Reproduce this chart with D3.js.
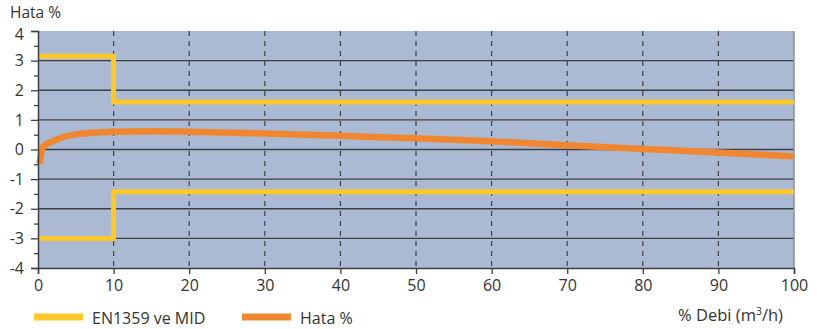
<!DOCTYPE html>
<html>
<head>
<meta charset="utf-8">
<script src="https://cdn.jsdelivr.net/npm/d3@7"></script>
<style>
  body { margin: 0; background: #fff; }
  svg { display: block; font-family: "Open Sans", sans-serif; }
</style>
</head>
<body>
<svg id="chart" width="817" height="329"></svg>
<script>
// values
const xTicks = [0, 10, 20, 30, 40, 50, 60, 70, 80, 90, 100];
const yTicks = [-4, -3, -2, -1, 0, 1, 2, 3, 4];

const limitUpper = [
  [0, 3.15], [10, 3.15], [10, 1.6], [100, 1.6],
];
const limitLower = [
  [0, -3.0], [10, -3.0], [10, -1.43], [100, -1.43],
];
const errorCurve = [
  [0.2, -0.48], [0.7, 0.1], [1.5, 0.22], [3.3, 0.42], [5.6, 0.53], [8, 0.58],
  [10, 0.6], [15, 0.62], [20, 0.6], [30, 0.54], [40, 0.46], [50, 0.38],
  [60, 0.28], [70, 0.14], [80, 0.02], [90, -0.1], [100, -0.23],
];

const svg = d3.select("#chart");
const margin = { left: 38, right: 23, top: 31, bottom: 61 };
const width = 817 - margin.left - margin.right;
const height = 329 - margin.top - margin.bottom;

const x = d3.scaleLinear().domain([0, 100]).range([margin.left, margin.left + width]);
const y = d3.scaleLinear().domain([-4, 4]).range([margin.top + height, margin.top]);

const ink = "#3b4047";

svg.append("rect")
  .attr("x", x(0)).attr("y", y(4))
  .attr("width", x(100) - x(0)).attr("height", y(-4) - y(4))
  .attr("fill", "#abb9d3");

// horizontal grid
svg.append("g")
  .selectAll("line")
  .data(yTicks.filter((d) => d > -4 && d < 4))
  .join("line")
  .attr("x1", x(0)).attr("x2", x(100))
  .attr("y1", (d) => y(d)).attr("y2", (d) => y(d))
  .attr("stroke", ink).attr("stroke-width", 1.3);

// vertical dashed grid
svg.append("g")
  .selectAll("line")
  .data(xTicks.filter((d) => d > 0 && d < 100))
  .join("line")
  .attr("x1", (d) => x(d)).attr("x2", (d) => x(d))
  .attr("y1", y(4)).attr("y2", y(-4))
  .attr("stroke", ink).attr("stroke-width", 1.2)
  .attr("stroke-dasharray", "5,5");

// right border
svg.append("line")
  .attr("x1", x(100)).attr("x2", x(100))
  .attr("y1", y(4)).attr("y2", y(-4))
  .attr("stroke", "#8a8f96").attr("stroke-width", 1.5);

const line = d3.line().x((d) => x(d[0])).y((d) => y(d[1]));

for (const data of [limitUpper, limitLower])
  svg.append("path")
    .attr("d", line(data))
    .attr("fill", "none")
    .attr("stroke", "#fdc82b")
    .attr("stroke-width", 5)
    .attr("stroke-linejoin", "miter");

svg.append("path")
  .attr("d", line.curve(d3.curveMonotoneX)(errorCurve))
  .attr("fill", "none")
  .attr("stroke", "#f0862f")
  .attr("stroke-width", 6.5)
  .attr("stroke-linecap", "butt");

// axes
const xAxis = d3.axisBottom(x).tickValues(xTicks).tickSize(6).tickPadding(6);
const gx = svg.append("g")
  .attr("transform", `translate(0,${y(-4)})`)
  .call(xAxis);

const yAxis = d3.axisLeft(y)
  .tickValues(yTicks)
  .tickFormat((d) => String(d))
  .tickSize(7).tickPadding(7);
const gy = svg.append("g")
  .attr("transform", `translate(${x(0)},0)`)
  .call(yAxis);
// top label sits a little lower, as in the original
gy.selectAll(".tick text").filter((d) => d === 4).attr("y", 3);

const yMinor = d3.axisLeft(y)
  .tickValues(d3.range(-3.5, 4, 1))
  .tickSize(4).tickFormat("");
svg.append("g")
  .attr("transform", `translate(${x(0)},0)`)
  .call(yMinor)
  .call((g) => g.select(".domain").remove());

svg.selectAll(".domain").attr("stroke", ink).attr("stroke-width", 1.5);
svg.selectAll(".tick line").attr("stroke", ink).attr("stroke-width", 1.3);
svg.selectAll(".tick text")
  .attr("fill", "#333")
  .attr("font-size", 16)
  .attr("font-family", "Open Sans, sans-serif");

// axis titles
svg.append("text")
  .attr("x", 10).attr("y", 17.5)
  .attr("font-size", 15.5).attr("fill", "#333")
  .text("Hata %");

const xt = svg.append("text")
  .attr("x", 783).attr("y", 321)
  .attr("text-anchor", "end")
  .attr("font-size", 16.5).attr("fill", "#333");
xt.append("tspan").text("% Debi (m");
xt.append("tspan").attr("font-size", 10.5).attr("dy", -6).text("3");
xt.append("tspan").attr("dy", 6).text("/h)");

// legend
const legend = [
  { name: "EN1359 ve MID", color: "#fdc82b", x: 34 },
  { name: "Hata %", color: "#f0862f", x: 242 },
];
const lg = svg.append("g")
  .selectAll("g")
  .data(legend)
  .join("g")
  .attr("transform", (d) => `translate(${d.x},317)`);
lg.append("rect")
  .attr("x", 0).attr("y", -3.5)
  .attr("width", 49).attr("height", 7)
  .attr("fill", (d) => d.color);
lg.append("text")
  .attr("x", 58).attr("y", 7)
  .attr("font-size", 16).attr("fill", "#333")
  .text((d) => d.name);
</script>
</body>
</html>
